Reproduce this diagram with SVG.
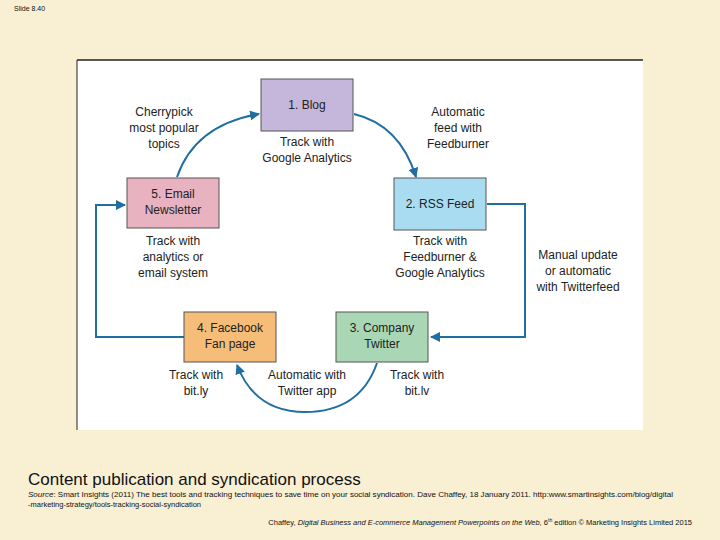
<svg xmlns="http://www.w3.org/2000/svg" width="720" height="540" viewBox="0 0 720 540">
<style>
.n{stroke:#555;stroke-width:1}
.t{font-family:"Liberation Sans",Arial,sans-serif;font-size:12px;fill:#222;text-anchor:middle}
.c{fill:none;stroke:#1f6fa0;stroke-width:2}
.s{font-family:"Liberation Sans",Arial,sans-serif;fill:#111}
</style>
<defs><marker id="a" viewBox="0 0 10 10" refX="9" refY="5" markerWidth="5" markerHeight="5" orient="auto"><path d="M0,0L10,5L0,10z" fill="#1f6fa0"/></marker></defs>
<rect width="720" height="540" fill="#f9efd3"/>
<text x="14" y="11" class="s" font-size="7">Slide 8.40</text>
<rect x="77" y="60" width="566" height="370" fill="#fff"/>
<line x1="77" y1="60" x2="643" y2="60" stroke="#222" stroke-width="1.5"/>
<line x1="77" y1="60" x2="77" y2="430" stroke="#222" stroke-width="1"/>
<g id="connectors">
<path class="c" d="M354,114 Q400,125 416,177" marker-end="url(#a)"/>
<path class="c" d="M487,204 H525 V337 H431" marker-end="url(#a)"/>
<path class="c" d="M377,363 Q360,412 305,412 Q255,412 237,365" marker-end="url(#a)"/>
<path class="c" d="M184,337 H96 V205 H125" marker-end="url(#a)"/>
<path class="c" d="M177,177 Q195,125 259,114" marker-end="url(#a)"/>
</g>
<g id="blog"><rect class="n" x="261" y="79" width="92" height="52" fill="#c5b6dc"/><text class="t" x="307" y="109">1. Blog</text></g>
<g id="rss"><rect class="n" x="394" y="178" width="92" height="52" fill="#a9dcf0"/><text class="t" x="440" y="208">2. RSS Feed</text></g>
<g id="twitter"><rect class="n" x="336" y="312" width="92" height="50" fill="#a9d6b4"/><text class="t" x="382" y="332">3. Company</text><text class="t" x="382" y="348">Twitter</text></g>
<g id="facebook"><rect class="n" x="184" y="312" width="92" height="50" fill="#f6bd78"/><text class="t" x="230" y="332">4. Facebook</text><text class="t" x="230" y="348">Fan page</text></g>
<g id="email"><rect class="n" x="127" y="178" width="92" height="50" fill="#e8b2c0"/><text class="t" x="173" y="198">5. Email</text><text class="t" x="173" y="214">Newsletter</text></g>
<g id="labels">
<text class="t" x="307" y="146">Track with</text><text class="t" x="307" y="162">Google Analytics</text>
<text class="t" x="458" y="116">Automatic</text><text class="t" x="458" y="132">feed with</text><text class="t" x="458" y="148">Feedburner</text>
<text class="t" x="164" y="116">Cherrypick</text><text class="t" x="164" y="132">most popular</text><text class="t" x="164" y="148">topics</text>
<text class="t" x="440" y="245">Track with</text><text class="t" x="440" y="261">Feedburner &amp;</text><text class="t" x="440" y="277">Google Analytics</text>
<text class="t" x="173" y="245">Track with</text><text class="t" x="173" y="261">analytics or</text><text class="t" x="173" y="277">email system</text>
<text class="t" x="578" y="259">Manual update</text><text class="t" x="578" y="275">or automatic</text><text class="t" x="578" y="291">with Twitterfeed</text>
<text class="t" x="196" y="379">Track with</text><text class="t" x="196" y="395">bit.ly</text>
<text class="t" x="307" y="379">Automatic with</text><text class="t" x="307" y="395">Twitter app</text>
<text class="t" x="417" y="379">Track with</text><text class="t" x="417" y="395">bit.lv</text>
</g>
<text x="28" y="485" class="s" font-size="17">Content publication and syndication process</text>
<text x="28" y="497" class="s" font-size="7.5" textLength="645" lengthAdjust="spacingAndGlyphs"><tspan font-style="italic">Source</tspan>: Smart Insights (2011) The best tools and tracking techniques to save time on your social syndication. Dave Chaffey, 18 January 2011. http:www.smartinsights.com/blog/digital</text>
<text x="28" y="507" class="s" font-size="7.5">-marketing-strategy/tools-tracking-social-syndication</text>
<text x="692" y="525" class="s" font-size="7.5" text-anchor="end">Chaffey, <tspan font-style="italic">Digital Business and E-commerce Management Powerpoints on the Web,</tspan> 6<tspan font-size="5" dy="-3">th</tspan><tspan dy="3"> edition © Marketing Insights Limited 2015</tspan></text>
</svg>
